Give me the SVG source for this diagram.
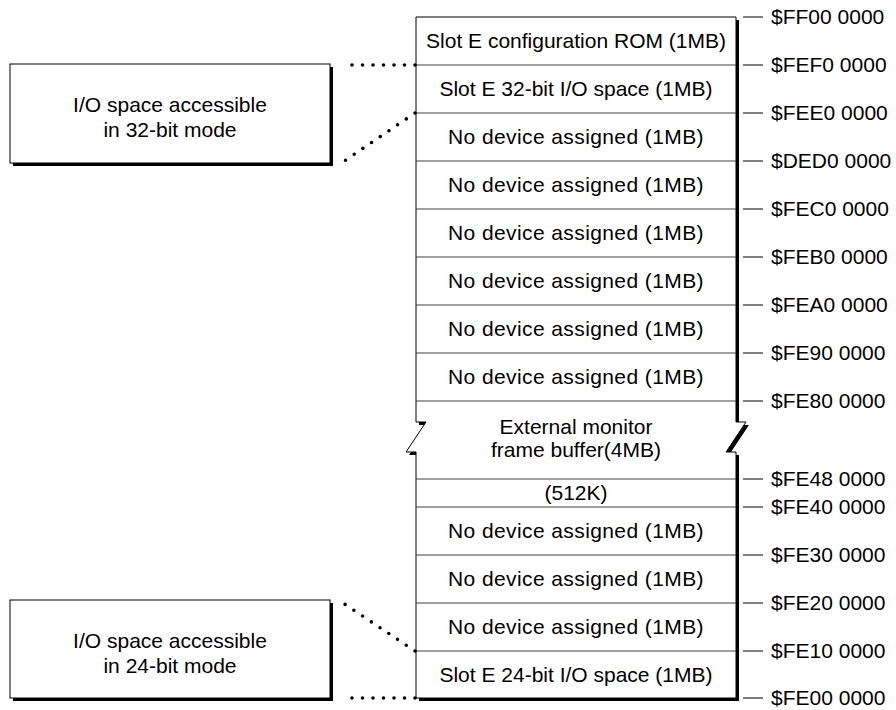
<svg xmlns="http://www.w3.org/2000/svg" width="896" height="710" viewBox="0 0 896 710">
<style>
text{font-family:"Liberation Sans",Arial,sans-serif;font-size:21px;fill:#000}
.c{text-anchor:middle}
.nd{letter-spacing:0.4px}
.div{stroke:#444;stroke-width:1.2;fill:none}
.tick{stroke:#000;stroke-width:1}
.dot{stroke:#000;stroke-width:3.6;stroke-linecap:round;stroke-dasharray:0 10.5;fill:none}
.box{fill:#fff;stroke:#000;stroke-width:1}
.sh{fill:#000}
</style>
<rect width="896" height="710" fill="#fff"/>
<g id="memory-map">
<path class="sh" transform="translate(3,3)" d="M416,17 H736 V422 H746 L726,452 H736 V698 H416 V452 H406 L426,422 H416 Z"/>
<path class="box" d="M416,17 H736 V422 H746 L726,452 H736 V698 H416 V452 H406 L426,422 H416 Z"/>
<path class="div" d="M416,65H736M416,113H736M416,161H736M416,209H736M416,257H736M416,305H736M416,353H736M416,401H736M416,479H736M416,507H736M416,555H736M416,603H736M416,651H736"/>
<text class="c" x="576" y="48">Slot E configuration ROM (1MB)</text>
<text class="c" x="576" y="96">Slot E 32-bit I/O space (1MB)</text>
<text class="c nd" x="576" y="144">No device assigned (1MB)</text>
<text class="c nd" x="576" y="192">No device assigned (1MB)</text>
<text class="c nd" x="576" y="240">No device assigned (1MB)</text>
<text class="c nd" x="576" y="288">No device assigned (1MB)</text>
<text class="c nd" x="576" y="336">No device assigned (1MB)</text>
<text class="c nd" x="576" y="384">No device assigned (1MB)</text>
<text class="c" x="576" y="434">External monitor</text>
<text class="c" x="576" y="457">frame buffer(4MB)</text>
<text class="c" x="576" y="500">(512K)</text>
<text class="c nd" x="576" y="538">No device assigned (1MB)</text>
<text class="c nd" x="576" y="586">No device assigned (1MB)</text>
<text class="c nd" x="576" y="634">No device assigned (1MB)</text>
<text class="c" x="576" y="682">Slot E 24-bit I/O space (1MB)</text>
</g>
<g id="addresses">
<path class="tick" d="M743,17H763M743,65H763M743,113H763M743,161H763M743,209H763M743,257H763M743,305H763M743,353H763M743,401H763M743,479H763M743,507H763M743,555H763M743,603H763M743,651H763M743,698H763"/>
<text x="771" y="24">$FF00 0000</text>
<text x="771" y="72">$FEF0 0000</text>
<text x="771" y="120">$FEE0 0000</text>
<text x="771" y="168">$DED0 0000</text>
<text x="771" y="216">$FEC0 0000</text>
<text x="771" y="264">$FEB0 0000</text>
<text x="771" y="312">$FEA0 0000</text>
<text x="771" y="360">$FE90 0000</text>
<text x="771" y="408">$FE80 0000</text>
<text x="771" y="486">$FE48 0000</text>
<text x="771" y="514">$FE40 0000</text>
<text x="771" y="562">$FE30 0000</text>
<text x="771" y="610">$FE20 0000</text>
<text x="771" y="658">$FE10 0000</text>
<text x="771" y="705">$FE00 0000</text>
</g>
<g id="box-32bit">
<rect class="sh" x="13" y="67" width="320" height="99"/>
<rect class="box" x="10" y="64" width="320" height="99"/>
<text class="c" x="170" y="112">I/O space accessible</text>
<text class="c" x="170" y="137">in 32-bit mode</text>
</g>
<g id="box-24bit">
<rect class="sh" x="13" y="603" width="320" height="98"/>
<rect class="box" x="10" y="600" width="320" height="98"/>
<text class="c" x="170" y="648">I/O space accessible</text>
<text class="c" x="170" y="673">in 24-bit mode</text>
</g>
<g id="connectors">
<path class="dot" d="M415,65 L342,65"/>
<path class="dot" d="M415,113 L337,166"/>
<path class="dot" d="M415,651 L343,603"/>
<path class="dot" d="M415,698 L342,698"/>
</g>
</svg>
